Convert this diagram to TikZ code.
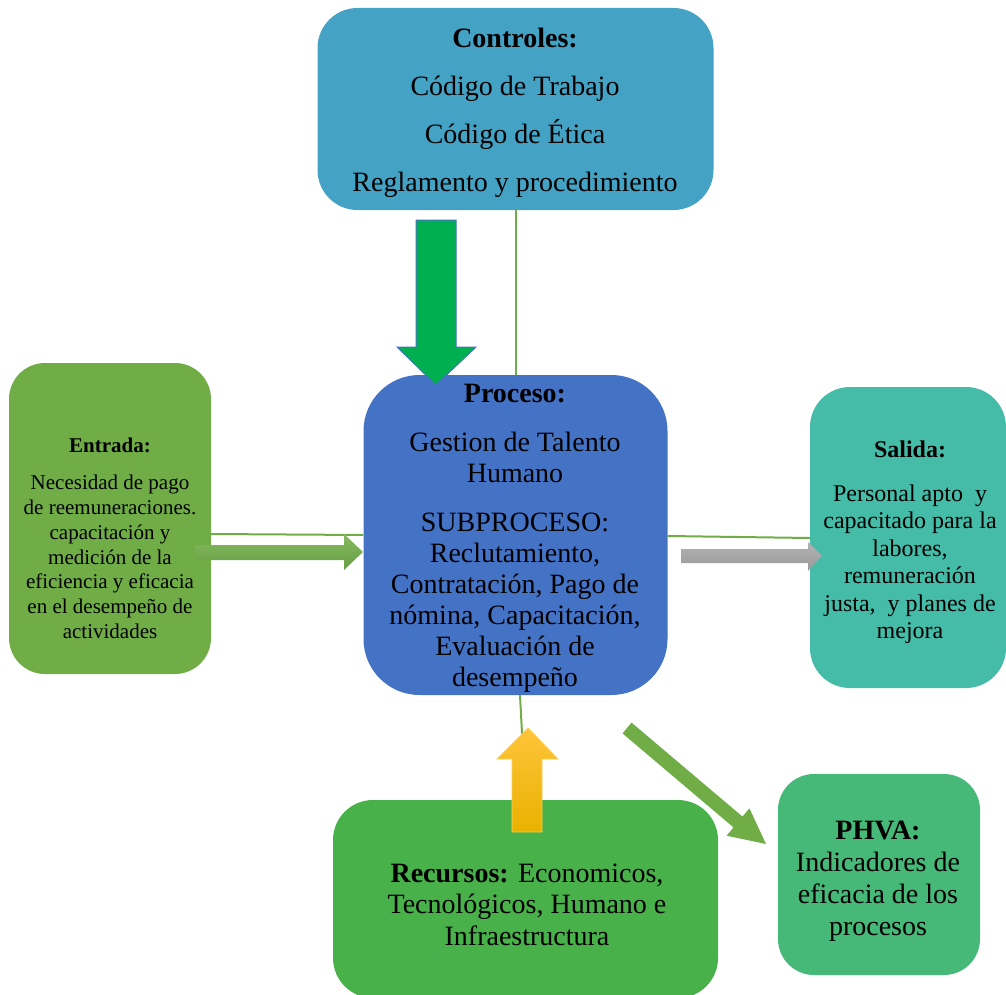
\documentclass[tikz,border=0pt]{standalone}
\usepackage{fontspec}
\setmainfont{Liberation Serif}
\definecolor{ctrlblue}{HTML}{44A2C4}
\definecolor{entgreen}{HTML}{70AD47}
\definecolor{procblue}{HTML}{4472C4}
\definecolor{saltea}{HTML}{45BCA7}
\definecolor{recgreen}{HTML}{48B14A}
\definecolor{phvagreen}{HTML}{46B978}
\definecolor{arrowgreen}{HTML}{00B050}
\definecolor{linkgreen}{HTML}{70AD47}
\definecolor{goldtop}{HTML}{FFC43A}
\definecolor{goldmid}{HTML}{FFC400}
\definecolor{goldbot}{HTML}{E9B200}
\definecolor{goldedge}{HTML}{FFCF50}
\begin{document}
\begin{tikzpicture}[x=1pt,y=-1pt,
  box/.style={rectangle, inner sep=0pt, draw=none},
  txt/.style={align=center, inner sep=0pt, text=black},
  link/.style={draw=linkgreen, line width=2pt},
]
\useasboundingbox (0,0) rectangle (1006,995);

% boxes
\node[box, fill=ctrlblue, rounded corners=40pt, minimum width=396pt, minimum height=202pt] (ctrl) at (515.5,109) {};
\node[box, fill=entgreen, rounded corners=36pt, minimum width=202pt, minimum height=311pt] (ent) at (110,518.5) {};
\node[box, fill=procblue, rounded corners=56pt, minimum width=304pt, minimum height=320pt] (proc) at (515.5,535) {};
\node[box, fill=saltea, rounded corners=40pt, minimum width=196pt, minimum height=301pt] (sal) at (908,537.5) {};
\node[box, fill=recgreen, rounded corners=40pt, minimum width=385pt, minimum height=198pt] (rec) at (525.5,899) {};
\node[box, fill=phvagreen, rounded corners=36pt, minimum width=202pt, minimum height=201pt] (phva) at (879,874.5) {};

% texts
\node[txt, font=\fontsize{28}{48}\selectfont] (ctrltext) at (515,113)
  {\textbf{Controles:}\\Código de Trabajo\\Código de Ética\\Reglamento y procedimiento};
\node[txt, font=\fontsize{21}{24.7}\selectfont] (enttext) at (110,538)
  {\textbf{Entrada:}\\[13pt]Necesidad de pago\\de reemuneraciones.\\capacitación y\\medición de la\\eficiencia y eficacia\\en el desempeño de\\actividades};
\node[txt, font=\fontsize{28}{31}\selectfont] (proctext) at (515,538)
  {\textbf{Proceso:}\\[18pt]Gestion de Talento\\Humano\\[18pt]SUBPROCESO:\\Reclutamiento,\\Contratación, Pago de\\nómina, Capacitación,\\Evaluación de\\desempeño};
\node[txt, font=\fontsize{24}{27.4}\selectfont] (saltext) at (910,542)
  {\textbf{Salida:}\\[17pt]Personal apto\ \ y\\capacitado para la\\labores,\\remuneración\\justa,\ \ y planes de\\mejora};
\node[txt, font=\fontsize{28}{32}\selectfont] (phvatext) at (878,881.5)
  {\textbf{PHVA:}\\Indicadores de\\eficacia de los\\procesos};
\node[txt, font=\fontsize{28}{31.5}\selectfont] (rectext) at (527,904.5)
  {\textbf{Recursos:} Economicos,\\Tecnológicos, Humano e\\Infraestructura};

% thin connectors
\draw[link] (ctrl.south) -- (proc.north);
\draw[link] (ent.east |- 0,534) -- (proc.west |- 0,535);
\draw[link] (proc.east |- 0,536) -- (sal.west |- 0,538);
\draw[link] (proc.south -| 520,0) -- (rec.north);

% block arrows
\fill[arrowgreen, draw=procblue, line width=1pt]
  (416,220) -- (456,220) -- (456,347) -- (476,347) -- (436,385) -- (397,347) -- (416,347) -- cycle;
\shade[top color=entgreen!85!white, bottom color=entgreen!92!black]
  (195,545) -- (344,545) -- (344,534) -- (363,552) -- (344,570) -- (344,560) -- (195,560) -- cycle;
\shade[top color=black!30, bottom color=black!40]
  (681,549) -- (808,549) -- (808,542) -- (822,556) -- (808,571) -- (808,563) -- (681,563) -- cycle;
\shade[top color=goldtop, middle color=goldmid, bottom color=goldbot, draw=goldedge, line width=0.8pt]
  (512,832) -- (512,759) -- (497,759) -- (528,728) -- (558,759) -- (542,759) -- (542,832) -- cycle;
\fill[linkgreen]
  (631.5,722.6) -- (742.5,816.6) -- (749.4,808.3) -- (766,844) -- (726.6,835.7) -- (733.5,827.4) -- (622.5,733.4) -- cycle;
\end{tikzpicture}
\end{document}
